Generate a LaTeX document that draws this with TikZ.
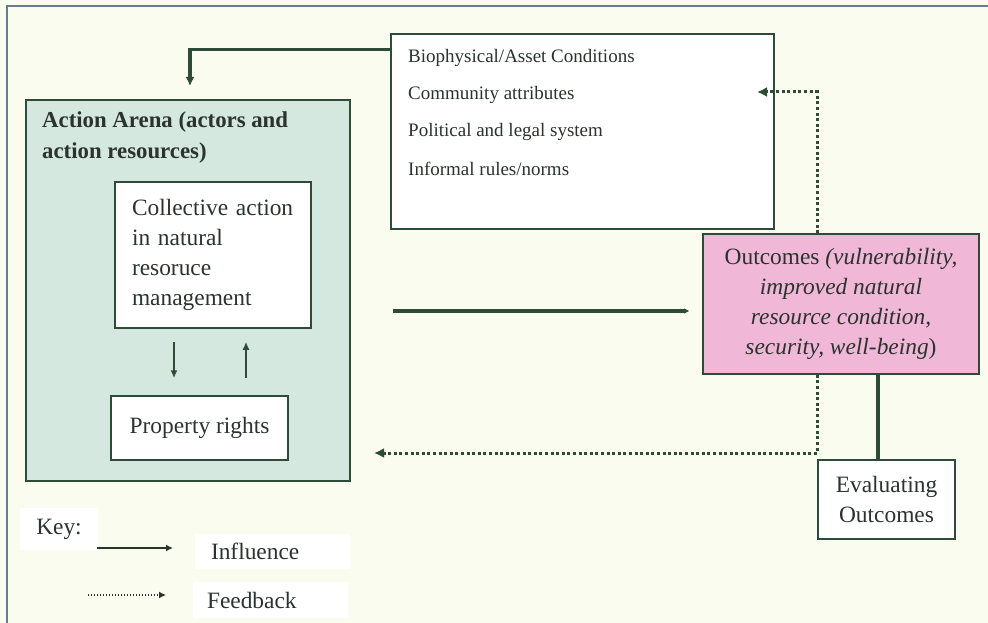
\documentclass[tikz,border=0pt]{standalone}
\usepackage{fontspec}
\setmainfont{Liberation Serif}
\usetikzlibrary{arrows.meta,calc}

\definecolor{paper}{HTML}{FBFCF0}
\definecolor{frameline}{HTML}{6B7B88}
\definecolor{ink}{HTML}{2E4A38}
\definecolor{txt}{HTML}{2A332E}
\definecolor{arenafill}{HTML}{D5E8DF}
\definecolor{outfill}{HTML}{F0B8D6}

\tikzset{
  box/.style={draw=ink, line width=1.5pt, fill=white, inner sep=0pt, text=txt},
  bigtext/.style={font=\fontsize{23.4}{30}\selectfont},
  smalltext/.style={font=\fontsize{19}{24}\selectfont, text=txt, inner sep=0pt, anchor=west},
  infl/.style={draw=ink, line width=3.6pt},
  inflthin/.style={draw=ink, line width=1.8pt, -{Latex[length=8pt,width=7pt]}},
  fb/.style={draw=ink, line width=3pt, dash pattern=on 3pt off 2.6pt,
    -{Latex[length=10pt,width=10pt]}},
  keypatch/.style={fill=white, inner ysep=0pt, text=txt, bigtext},
}

\begin{document}
\begin{tikzpicture}[x=1pt,y=-1pt]
  % page and frame
  \useasboundingbox (0,0) rectangle (988,623);
  \fill[paper] (0,0) rectangle (988,623);
  \draw[frameline, line width=2pt] (988,6) -- (7,6) -- (7,623);

  % action arena and its contents
  \node[box, fill=arenafill, line width=2pt, minimum width=324pt, minimum height=381pt]
    (arena) at (188,290.5) {};
  \node[anchor=north west, align=left, inner sep=0pt, text=txt,
        font=\bfseries\fontsize{22.8}{31}\selectfont] (arenatitle) at (42,111)
    {Action Arena (actors and\\action resources)};

  \node[box, bigtext, minimum width=196pt, minimum height=146pt, text width=162pt,
        align=left, inner xsep=17pt] (coll) at (213,255)
    {Collective action\\in natural\\resoruce\\management};

  \node[box, bigtext, minimum width=177pt, minimum height=64pt] (prop) at (199.5,428)
    {Property rights};

  \draw[inflthin, shorten <=13pt, shorten >=17pt]
    ([xshift=-39pt]coll.south) -- ([xshift=-39pt]coll.south |- prop.north);
  \draw[inflthin, shorten <=17pt, shorten >=13pt]
    ([xshift=33pt]coll.south |- prop.north) -- ([xshift=33pt]coll.south);

  % conditions
  \node[box, minimum width=383pt, minimum height=195pt] (cond) at (582.5,131.5) {};
  \node[smalltext] (c1) at (408,58)  {Biophysical/Asset Conditions};
  \node[smalltext] (c2) at (408,95)  {Community attributes};
  \node[smalltext] (c3) at (408,132) {Political and legal system};
  \node[smalltext] (c4) at (408,169) {Informal rules/norms};

  % outcomes and evaluation
  \node[box, fill=outfill, bigtext, minimum width=276pt, minimum height=140pt, align=center]
    (outc) at (841,304)
    {Outcomes \textit{(vulnerability,}\\\textit{improved natural}\\\textit{resource condition,}\\\textit{security, well-being})};
  \node[box, bigtext, minimum width=137pt, minimum height=79pt, align=center]
    (eval) at (886.5,499.5) {Evaluating\\Outcomes};

  % connectors
  \coordinate (arenain) at (190,86);
  \coordinate (infly) at (0,311);
  \coordinate (fby) at (0,453);
  \coordinate (fbtip) at (757,92);

  \draw[infl, line width=3.2pt, -{Latex[length=9pt,width=9pt]}]
    ([yshift=-16pt]cond.north west) -| (arenain);
  \draw[infl, -{Latex[length=5pt,width=6pt]}, shorten <=42pt, shorten >=13pt]
    (arena.east |- infly) -- (outc.west |- infly);
  \draw[fb] ([xshift=-24pt]outc.north) |- (fbtip);
  \draw[fb, shorten >=23pt] ([xshift=-24pt]outc.south) |- (arena.east |- fby);
  \draw[infl] ([xshift=-8.5pt]eval.north) -- ([xshift=-8.5pt]eval.north |- outc.south);

  % key
  \node[keypatch, minimum width=78pt, minimum height=42pt] (keylbl) at (59,529) {Key:};
  \node[keypatch, minimum height=35pt, text width=123pt, inner xsep=16pt, align=left]
    (inflbl) at (272.5,551) {Influence};
  \node[keypatch, minimum height=36pt, text width=127pt, inner xsep=14pt, align=left]
    (fblbl) at (270.5,600) {Feedback};

  \coordinate (k1a) at (97,548);
  \coordinate (k1b) at (173,548);
  \coordinate (k2a) at (88,595);
  \coordinate (k2b) at (166,595);
  \draw[draw=txt, line width=1.4pt, -{Latex[length=7pt,width=7pt]}] (k1a) -- (k1b);
  \draw[draw=txt, line width=1.4pt, dash pattern=on 1.4pt off 1.6pt,
        -{Latex[length=7pt,width=7pt]}] (k2a) -- (k2b);
\end{tikzpicture}
\end{document}
